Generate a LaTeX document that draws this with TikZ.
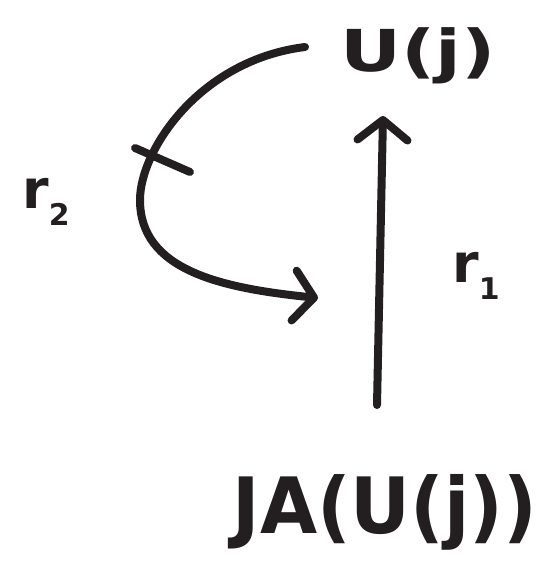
\documentclass[tikz,border=0pt]{standalone}
\usepackage{fontspec}
\setmainfont{DejaVu Sans}
\usetikzlibrary{arrows.meta}
\definecolor{ink}{HTML}{231F20}
\tikzset{
  pen/.style={draw=ink, line width=8bp, line cap=round, line join=round},
  head/.style={-{Straight Barb[length=20bp,width=50bp,line cap=round,line join=round]}},
  lbl/.style={text=ink, inner sep=0pt},
}
\begin{document}
\begin{tikzpicture}[x=1bp,y=-1bp]
\useasboundingbox (0,0) rectangle (552,564);
\node[lbl, font=\fontsize{58}{58}\selectfont\bfseries, xscale=1.3] (u) at (418,56) {U(j)};
\node[lbl, font=\fontsize{78}{78}\selectfont\bfseries, xscale=0.95] (ja) at (385,512) {JA(U(j))};
\node[lbl, font=\fontsize{54}{54}\selectfont\bfseries] (r1) at (476,276) {r\raisebox{-0.3em}{\fontsize{30}{30}\selectfont 1}};
\node[lbl, font=\fontsize{54}{54}\selectfont\bfseries] (r2) at (46,202) {r\raisebox{-0.3em}{\fontsize{30}{30}\selectfont 2}};
\coordinate (a1) at (377,405);
\coordinate (a2) at (383,116);
\coordinate (c1) at (305,47);
\coordinate (c2) at (318,298);
\coordinate (t1) at (135,148);
\coordinate (t2) at (190,172);
\draw[pen, head] (a1) -- (a2);
\draw[pen, head] (c1) .. controls (200,60) and (140,150) .. (140,200) .. controls (140,270) and (220,288) .. (c2);
\draw[pen] (t1) -- (t2);
\end{tikzpicture}
\end{document}
